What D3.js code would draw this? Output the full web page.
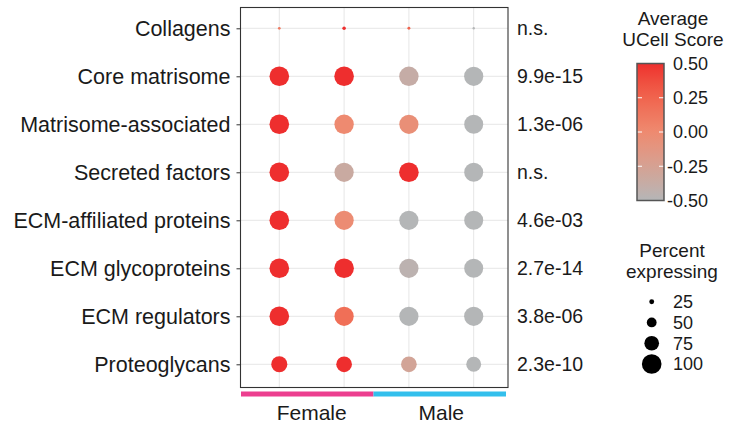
<!DOCTYPE html>
<html>
<head>
<meta charset="utf-8">
<script src="https://cdn.jsdelivr.net/npm/d3@7"></script>
<style>
  body { margin: 0; background: #fff; }
  svg text { font-family: "Liberation Sans", Arial, Helvetica, sans-serif; fill: #1a1a1a; }
</style>
</head>
<body>
<svg id="chart" width="743" height="427"></svg>
<script>
// rows, top to bottom
var features = ["Collagens", "Core matrisome", "Matrisome-associated", "Secreted factors",
    "ECM-affiliated proteins", "ECM glycoproteins", "ECM regulators", "Proteoglycans"];
var groups = ["Female 1", "Female 2", "Male 1", "Male 2"];
var groupSex = ["Female", "Female", "Male", "Male"];
var sexes = ["Female", "Male"];
var pValues = ["n.s.", "9.9e-15", "1.3e-06", "n.s.", "4.6e-03", "2.7e-14", "3.8e-06", "2.3e-10"];

// average UCell score, one array per row (columns = groups)
var avgScore = [
    [0.1, 0.5, 0.25, -0.5],
    [0.5, 0.5, -0.38, -0.5],
    [0.5, 0.0, -0.05, -0.5],
    [0.5, -0.35, 0.5, -0.5],
    [0.5, -0.02, -0.5, -0.5],
    [0.5, 0.5, -0.45, -0.5],
    [0.5, 0.18, -0.5, -0.5],
    [0.5, 0.5, -0.28, -0.5]
];
// percent expressing
var pctExpressed = [
    [14, 18, 15, 12],
    [100, 100, 99, 98],
    [100, 99, 98, 97],
    [100, 98, 100, 97],
    [100, 98, 98, 97],
    [100, 100, 98, 97],
    [100, 98, 98, 98],
    [82, 80, 80, 76]
];

var colorTicks = [0.5, 0.25, 0, -0.25, -0.5];
var colorStops = ["#b4b6b7", "#ee8a70", "#ee2e2e"];
var sizeBreaks = [25, 50, 75, 100];

var svg = d3.select("#chart");

var panel = {left: 240.5, top: 7.5, right: 508, bottom: 387.5};

var x = d3.scalePoint().domain(groups).range([279.3, 473.7]);
var y = d3.scalePoint().domain(features).range([28.3, 364.3]);
var color = d3.scaleLinear().domain([-0.5, 0, 0.5])
    .range(colorStops)
    .interpolate(d3.interpolateLab).clamp(true);
var radius = d3.scaleLinear().domain([0, 100]).range([0, 9.8]);

// gridlines
svg.append("g").selectAll("line").data(groups).enter().append("line")
    .attr("x1", function(d) { return x(d); }).attr("x2", function(d) { return x(d); })
    .attr("y1", panel.top).attr("y2", panel.bottom)
    .attr("stroke", "#e6e6e6").attr("stroke-width", 1);
svg.append("g").selectAll("line").data(features).enter().append("line")
    .attr("y1", function(d) { return y(d); }).attr("y2", function(d) { return y(d); })
    .attr("x1", panel.left).attr("x2", panel.right)
    .attr("stroke", "#e6e6e6").attr("stroke-width", 1);

// dots
var cells = [];
features.forEach(function(f, i) {
    groups.forEach(function(g, j) {
        cells.push({feature: f, group: g, score: avgScore[i][j], pct: pctExpressed[i][j]});
    });
});
svg.append("g").selectAll("circle").data(cells).enter().append("circle")
    .attr("cx", function(d) { return x(d.group); })
    .attr("cy", function(d) { return y(d.feature); })
    .attr("r", function(d) { return radius(d.pct); })
    .attr("fill", function(d) { return color(d.score); });

// panel border
svg.append("rect")
    .attr("x", panel.left).attr("y", panel.top)
    .attr("width", panel.right - panel.left).attr("height", panel.bottom - panel.top)
    .attr("fill", "none").attr("stroke", "#333").attr("stroke-width", 1.1);

// y axis
var yAxis = d3.axisLeft(y).tickSize(4).tickPadding(6);
var yg = svg.append("g").attr("transform", "translate(" + panel.left + ",0)").call(yAxis);
yg.select(".domain").remove();
yg.selectAll(".tick line").attr("stroke", "#333");
yg.selectAll(".tick text").attr("font-size", "21.5px").attr("fill", "#1a1a1a")
    .style("font-family", '"Liberation Sans", Arial, sans-serif');

// p-values
svg.append("g").selectAll("text").data(features).enter().append("text")
    .attr("x", 517).attr("y", function(d) { return y(d); })
    .attr("dy", "0.35em").attr("font-size", "19.5px")
    .text(function(d, i) { return pValues[i]; });

// sex annotation bar
var sexX = d3.scaleBand().domain(sexes).range([241, 506]);
svg.append("g").selectAll("rect").data(sexes).enter().append("rect")
    .attr("x", function(d) { return sexX(d); }).attr("y", 391.5)
    .attr("width", sexX.bandwidth()).attr("height", 5)
    .attr("fill", function(d) { return d === "Female" ? "#ec3f8f" : "#33bfec"; });
svg.append("g").selectAll("text").data(sexes).enter().append("text")
    .attr("x", function(d) {
        var cols = groups.filter(function(g, j) { return groupSex[j] === d; });
        return (x(cols[0]) + x(cols[cols.length - 1])) / 2;
    })
    .attr("y", 420).attr("text-anchor", "middle").attr("font-size", "21px")
    .text(function(d) { return d; });

// colour legend
var leg = svg.append("g");
leg.append("text").attr("x", 673).attr("y", 25).attr("text-anchor", "middle")
    .attr("font-size", "19px").text("Average");
leg.append("text").attr("x", 673).attr("y", 45.5).attr("text-anchor", "middle")
    .attr("font-size", "19px").text("UCell Score");

var cb = {x: 637, y: 63.5, w: 27, h: 137};
var cy = d3.scaleLinear().domain([-0.5, 0.5]).range([cb.y + cb.h, cb.y]);
var grad = svg.append("defs").append("linearGradient").attr("id", "cgrad")
    .attr("x1", 0).attr("x2", 0).attr("y1", 1).attr("y2", 0);
d3.range(0, 1.0001, 0.05).forEach(function(t) {
    grad.append("stop").attr("offset", t).attr("stop-color", color(-0.5 + t));
});
leg.append("rect").attr("x", cb.x).attr("y", cb.y).attr("width", cb.w).attr("height", cb.h)
    .attr("fill", "url(#cgrad)");
colorTicks.forEach(function(v) {
    var tc = (v === 0.5 || v === -0.5) ? "#777" : "#fff";
    leg.append("line").attr("x1", cb.x).attr("x2", cb.x + 5)
        .attr("y1", cy(v)).attr("y2", cy(v)).attr("stroke", tc).attr("stroke-width", 1);
    leg.append("line").attr("x1", cb.x + cb.w - 5).attr("x2", cb.x + cb.w)
        .attr("y1", cy(v)).attr("y2", cy(v)).attr("stroke", tc).attr("stroke-width", 1);
});
leg.append("rect").attr("x", cb.x).attr("y", cb.y).attr("width", cb.w).attr("height", cb.h)
    .attr("fill", "none").attr("stroke", "#555").attr("stroke-width", 1.5);
leg.selectAll("text.ct").data(colorTicks).enter().append("text").attr("class", "ct")
    .attr("x", 708).attr("y", function(d) { return cy(d); }).attr("dy", "0.35em")
    .attr("text-anchor", "end").attr("font-size", "18px")
    .text(function(d) { return d3.format(".2f")(d).replace("\u2212", "-"); });

// size legend
var sl = svg.append("g");
sl.append("text").attr("x", 672).attr("y", 257).attr("text-anchor", "middle")
    .attr("font-size", "19px").text("Percent");
sl.append("text").attr("x", 672).attr("y", 277.5).attr("text-anchor", "middle")
    .attr("font-size", "19px").text("expressing");
var sy = d3.scalePoint().domain(sizeBreaks).range([301.7, 364]);
sl.selectAll("circle").data(sizeBreaks).enter().append("circle")
    .attr("cx", 651.7).attr("cy", function(d) { return sy(d); })
    .attr("r", function(d) { return radius(d); }).attr("fill", "#000");
sl.selectAll("text.st").data(sizeBreaks).enter().append("text").attr("class", "st")
    .attr("x", 673).attr("y", function(d) { return sy(d); }).attr("dy", "0.35em")
    .attr("font-size", "18px").text(function(d) { return d; });
</script>
</body>
</html>
